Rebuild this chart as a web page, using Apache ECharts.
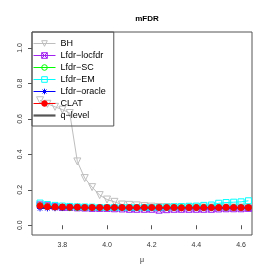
<!DOCTYPE html>
<html>
<head>
<meta charset="utf-8">
<script src="https://cdn.jsdelivr.net/npm/echarts@6/dist/echarts.min.js"></script>
<style>html,body{margin:0;padding:0;background:#fff}#c{width:273px;height:273px}</style>
</head>
<body>
<div id="c"></div>
<script>
const mu = [3.7,3.733,3.767,3.8,3.833,3.867,3.9,3.933,3.967,4.0,4.033,4.067,4.1,4.133,4.167,4.2,4.233,4.267,4.3,4.333,4.367,4.4,4.433,4.467,4.5,4.533,4.567,4.6,4.633];
const bh = [0.705,0.685,0.668,0.652,0.633,0.36,0.266,0.215,0.17,0.145,0.132,0.117,0.115,0.112,0.108,0.105,0.103,0.102,0.1,0.1,0.1,0.1,0.1,0.1,0.1,0.1,0.1,0.1,0.1];
const locfdr = [0.115,0.11,0.105,0.1,0.1,0.098,0.097,0.095,0.095,0.095,0.093,0.092,0.09,0.09,0.09,0.09,0.085,0.088,0.09,0.09,0.09,0.09,0.09,0.09,0.092,0.093,0.093,0.093,0.095];
const sc = [0.11,0.105,0.103,0.102,0.1,0.1,0.1,0.1,0.1,0.1,0.1,0.1,0.1,0.1,0.1,0.1,0.1,0.1,0.1,0.1,0.1,0.1,0.1,0.1,0.1,0.1,0.1,0.1,0.1];
const em = [0.125,0.117,0.112,0.108,0.106,0.104,0.103,0.102,0.1,0.1,0.1,0.1,0.1,0.1,0.1,0.1,0.1,0.102,0.104,0.105,0.107,0.108,0.112,0.114,0.124,0.128,0.13,0.132,0.138];
const oracle = [0.095,0.095,0.096,0.097,0.097,0.098,0.098,0.097,0.097,0.098,0.098,0.097,0.097,0.097,0.097,0.097,0.096,0.097,0.097,0.097,0.097,0.097,0.097,0.097,0.097,0.097,0.098,0.098,0.098];
const clat = [0.11,0.105,0.103,0.103,0.102,0.102,0.1,0.1,0.1,0.1,0.1,0.1,0.1,0.1,0.1,0.1,0.1,0.1,0.1,0.098,0.1,0.1,0.1,0.1,0.1,0.101,0.1,0.1,0.1];
const qlevel = mu.map(() => 0.1);
const xTicks = [3.8,4.0,4.2,4.4,4.6];
const yTicks = [0,0.2,0.4,0.6,0.8,1.0];
const names = ['BH','Lfdr\u2212locfdr','Lfdr\u2212SC','Lfdr\u2212EM','Lfdr\u2212oracle','CLAT','q\u2212level'];

const pair = arr => mu.map((m,i) => [m, arr[i]]);
const FONT = 'Liberation Sans, Arial, sans-serif';

function ser(name, data, color, symbol, opts) {
  return Object.assign({
    name: name, type: 'line', data: pair(data),
    symbol: symbol, symbolSize: 6,
    lineStyle: {color: color, width: 1},
    itemStyle: {color: 'rgba(255,255,255,0)', borderColor: color, borderWidth: 1},
    emphasis: {disabled: true}, animation: false
  }, opts || {});
}

const legendData = names.map((n, i) => i === 6
  ? {name: n, icon: 'path://M0,0L20,0L20,2L0,2Z', itemStyle: {color: '#555', borderWidth: 0}}
  : {name: n});

const chart = echarts.init(document.getElementById('c'), null, {renderer: 'canvas'});
chart.setOption({
  animation: false,
  backgroundColor: '#fff',
  title: {text: 'mFDR', left: 142, textAlign: 'center', top: 10,
    textStyle: {fontSize: 8, fontWeight: 'bold', color: '#000', fontFamily: FONT}},
  grid: {left: 32, right: 21, top: 32, bottom: 38, show: true,
    borderColor: '#555', borderWidth: 1, backgroundColor: 'transparent'},
  legend: {
    orient: 'vertical', left: 32, top: 32,
    padding: [7, 8, 6, 1], itemGap: 3, itemWidth: 22, itemHeight: 7,
    borderColor: '#555', borderWidth: 1, backgroundColor: 'transparent',
    itemStyle: {borderWidth: 1},
    lineStyle: {width: 1},
    textStyle: {fontSize: 9, color: '#000', fontFamily: FONT},
    data: legendData
  },
  xAxis: {
    type: 'value', min: 3.664, max: 4.649,
    name: '\u03bc', nameLocation: 'middle', nameGap: 22,
    nameTextStyle: {fontSize: 7, color: '#333', fontFamily: FONT},
    axisLine: {show: false},
    axisTick: {show: true, length: 4, customValues: xTicks, lineStyle: {color: '#555'}},
    axisLabel: {customValues: xTicks, formatter: v => v.toFixed(1), margin: 7,
      fontSize: 7, color: '#333', fontFamily: FONT},
    splitLine: {show: false}
  },
  yAxis: {
    type: 'value', min: -0.055, max: 1.09,
    axisLine: {show: false},
    axisTick: {show: true, length: 4, customValues: yTicks, lineStyle: {color: '#555'}},
    axisLabel: {customValues: yTicks, formatter: v => v.toFixed(1), margin: 8, rotate: 90,
      fontSize: 7, color: '#333', fontFamily: FONT},
    splitLine: {show: false}
  },
  series: [
    ser(names[0], bh, '#BEBEBE', 'triangle', {symbolRotate: 180, symbolSize: 7, z: 2}),
    ser(names[1], locfdr, '#A020F0', 'path://M-1,-1L1,-1L1,1L-1,1ZM-1,-1L1,1M-1,1L1,-1', {z: 3}),
    ser(names[2], sc, '#00FF00', 'circle', {z: 4}),
    ser(names[3], em, '#00FFFF', 'rect', {z: 5}),
    ser(names[4], oracle, '#0000FF', 'path://M-1,0L1,0M0,-1L0,1M-0.7,-0.7L0.7,0.7M-0.7,0.7L0.7,-0.7', {z: 6}),
    ser(names[5], clat, '#FF0000', 'circle', {itemStyle: {color: '#FF0000', borderColor: '#FF0000', borderWidth: 1}, z: 8}),
    ser(names[6], qlevel, '#444', 'rect', {lineStyle: {color: '#444', width: 1.5}, showSymbol: false, z: 7})
  ]
});
</script>
</body>
</html>
